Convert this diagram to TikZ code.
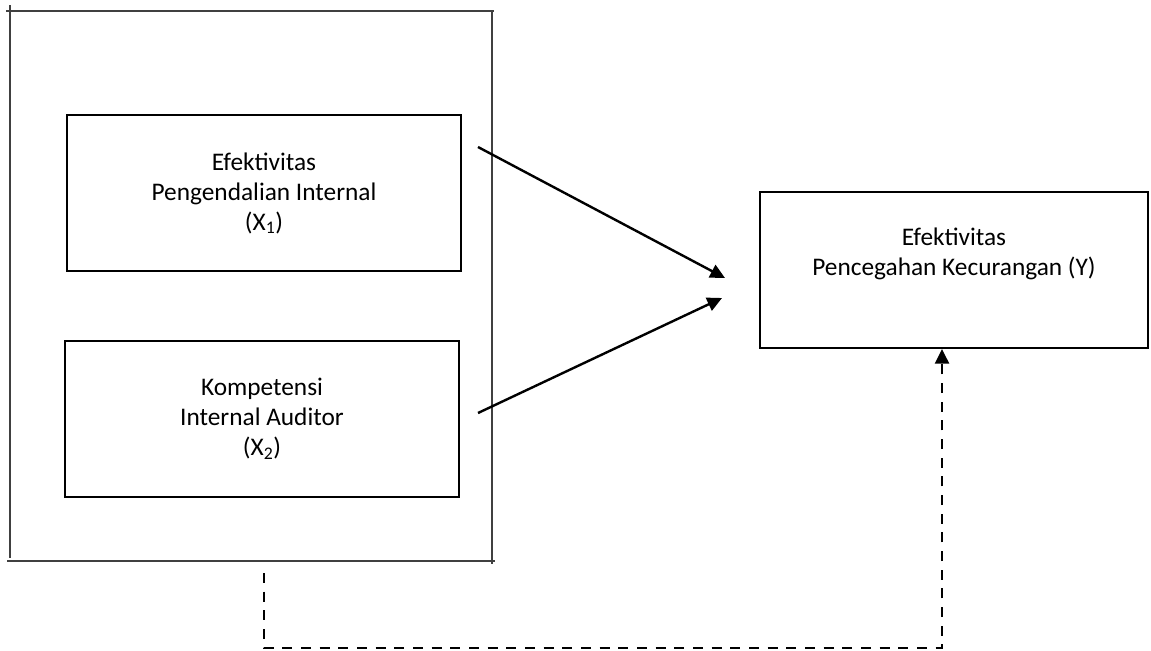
\documentclass[tikz,border=0pt]{standalone}
\usepackage{fontspec}
\setmainfont{Carlito}
\usetikzlibrary{arrows.meta}

\tikzset{
	varbox/.style={draw, line width=1.5pt, minimum width=296pt, minimum height=117pt},
	vartext/.style={align=center, font=\fontsize{19}{22.5}\selectfont},
	frameline/.style={draw=black!75, line width=1.4pt},
	effect/.style={line width=1.8pt, -{Triangle[length=11pt, width=10.5pt]}},
	moderate/.style={effect, dash pattern=on 7.5pt off 6.5pt}
}

\begin{document}
\begin{tikzpicture}[x=0.75pt, y=-0.75pt]
	\useasboundingbox (0,0) rectangle (1151,650);

	% outer frame round both variables
	\draw[frameline] (6,11) -- (494,11);
	\draw[frameline] (10,5) -- (10,558);
	\draw[frameline] (7,561) -- (495,561);
	\draw[frameline] (492,10) -- (492,564);

	\node[varbox, vartext] (x1) at (264,193) {Efektivitas\\Pengendalian Internal\\(X\textsubscript{1})};
	\node[varbox, vartext] (x2) at (262,419) {Kompetensi\\Internal Auditor\\(X\textsubscript{2})};
	\node[varbox, minimum width=291pt] (y) at (954,270) {};
	\node[vartext] (ytext) at (954,254) {Efektivitas\\Pencegahan Kecurangan (Y)};

	\coordinate (x1out) at (478,147);
	\coordinate (x2out) at (478,413);
	\coordinate (yin1) at (725,278);
	\coordinate (yin2) at (722,298);
	\coordinate (frame) at (264,573);
	\coordinate (low1) at (264,648);
	\coordinate (low2) at (942,648);

	\draw[effect] (x1out) -- (yin1);
	\draw[effect] (x2out) -- (yin2);
	\draw[moderate] (frame) -- (low1) -- (low2) -- (low2 |- y.south);
\end{tikzpicture}
\end{document}
